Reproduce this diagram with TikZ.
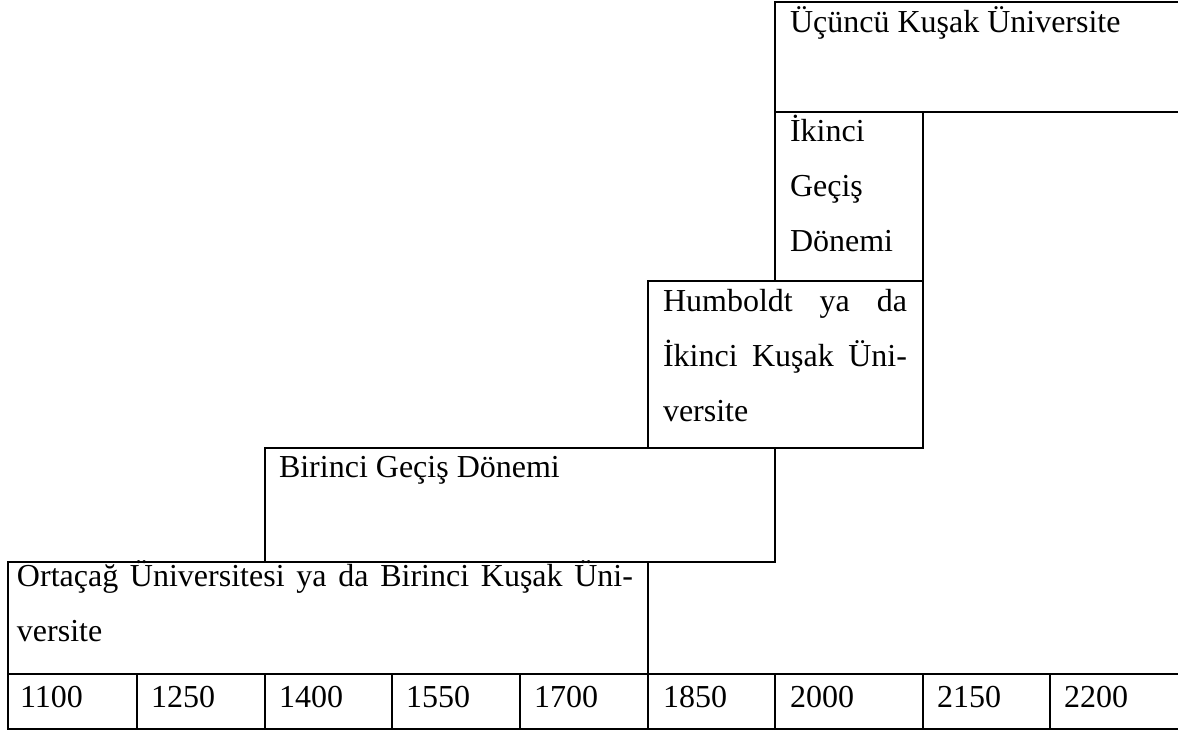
\documentclass[tikz,border=0pt]{standalone}
\usepackage{fontspec}
\setmainfont{Liberation Serif}
\tikzset{
  frame/.style={line width=1pt, draw=black},
  lbl/.style={inner sep=0pt, outer sep=0pt, anchor=base west, font=\fontsize{16pt}{27.5pt}\selectfont},
  para/.style={lbl, align=justify},
}
\begin{document}
\begin{tikzpicture}[x=0.5pt, y=-0.5pt]
\useasboundingbox (0,0) rectangle (1178,731);
% boxes
\draw[frame] (1178,2) -- (775,2) -- (775,112) -- (1178,112);
\draw[frame] (775,112) rectangle (923,281);
\draw[frame] (648,281) rectangle (923,448);
\draw[frame] (265,448) rectangle (775,562);
\draw[frame] (8,562) rectangle (648,674);
\draw[frame] (1178,674) -- (8,674) -- (8,729) -- (1178,729);
\foreach \x in {137,265,392,520,648,775,923,1050}
  \draw[frame] (\x,674) -- (\x,729);
% texts
\node[lbl] (ucuncu) at (790,33) {Üçüncü Kuşak Üniversite};
\node[para, text width=60pt] (ikinci) at (790,142) {İkinci\\Geçiş\\Dönemi};
\node[para, text width=122pt] (humboldt) at (663,312) {Humboldt ya da\linebreak İkinci Kuşak Üni-\linebreak versite};
\node[lbl] (birinci) at (279,478) {Birinci Geçiş Dönemi};
\node[para, text width=308pt] (ortacag) at (17,587) {Ortaçağ Üniversitesi ya da Birinci Kuşak Üni-\linebreak versite};
\node[lbl] (y1100) at (20,707) {1100};
\node[lbl] (y1250) at (151,707) {1250};
\node[lbl] (y1400) at (279,707) {1400};
\node[lbl] (y1550) at (406,707) {1550};
\node[lbl] (y1700) at (534,707) {1700};
\node[lbl] (y1850) at (663,707) {1850};
\node[lbl] (y2000) at (790,707) {2000};
\node[lbl] (y2150) at (937,707) {2150};
\node[lbl] (y2200) at (1064,707) {2200};
\end{tikzpicture}
\end{document}
